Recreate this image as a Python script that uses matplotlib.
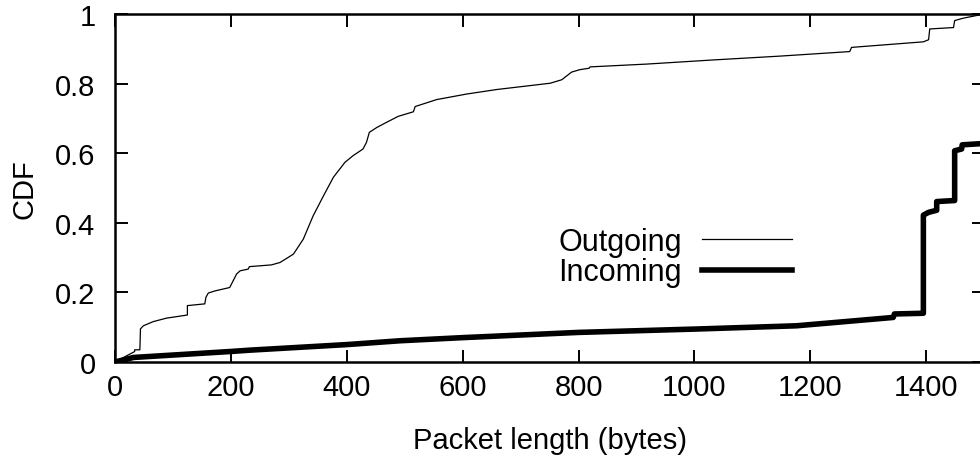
import matplotlib as mpl
mpl.use('Agg')
import matplotlib.pyplot as plt

# CDF of packet lengths
out_x = [0, 34, 34, 43, 44, 49, 66, 89, 125, 125, 155, 157, 161, 172, 198,
         210, 216, 230, 232, 270, 285, 308, 325, 342, 360, 377, 397, 411, 428,
         434, 439, 452, 469, 489, 515, 518, 555, 607, 659, 705, 751, 771, 788,
         802, 818, 820, 917, 1033, 1148, 1268, 1271, 1395, 1404, 1406, 1447,
         1449, 1464, 1500]
out_y = [0, 0.03, 0.035, 0.035, 0.095, 0.104, 0.116, 0.126, 0.135, 0.162,
         0.167, 0.186, 0.198, 0.204, 0.214, 0.253, 0.262, 0.267, 0.274, 0.279,
         0.286, 0.310, 0.353, 0.420, 0.478, 0.531, 0.574, 0.593, 0.612, 0.631,
         0.660, 0.674, 0.689, 0.706, 0.719, 0.734, 0.754, 0.770, 0.783, 0.792,
         0.801, 0.811, 0.833, 0.840, 0.844, 0.848, 0.856, 0.868, 0.879, 0.892,
         0.904, 0.920, 0.926, 0.957, 0.961, 0.981, 0.988, 1.0]

in_x = [0, 32, 198, 233, 400, 492, 600, 800, 1009, 1176, 1343, 1345, 1395,
        1395, 1404, 1418, 1418, 1449, 1449, 1461, 1462, 1500]
in_y = [0, 0.013, 0.030, 0.034, 0.05, 0.061, 0.07, 0.085, 0.095, 0.104, 0.128,
        0.138, 0.14, 0.422, 0.43, 0.436, 0.461, 0.464, 0.607, 0.612, 0.624,
        0.628]

xticks = [0, 200, 400, 600, 800, 1000, 1200, 1400]
yticks = [0, 0.2, 0.4, 0.6, 0.8, 1]
ytick_labels = ['0', '0.2', '0.4', '0.6', '0.8', '1']

plt.rcParams['font.family'] = ['Liberation Sans', 'DejaVu Sans']
plt.rcParams['font.size'] = 21

fig = plt.figure(figsize=(9.8, 4.64), dpi=100)
# the right edge of the frame falls just outside the picture
ax = fig.add_axes([0.1173, 0.2177, 0.887, 0.75])

ax.plot(out_x, out_y, color='black', lw=0.9, label='Outgoing')
ax.plot(in_x, in_y, color='black', lw=4, label='Incoming')

ax.set_xlim(0, 1500)
ax.set_ylim(0, 1)
ax.set_xticks(xticks)
ax.set_yticks(yticks)
ax.set_yticklabels(ytick_labels)
ax.tick_params(direction='in', length=9, width=1.4, top=True, right=True)
ax.tick_params(axis='x', pad=8)
ax.tick_params(axis='y', pad=14)
for s in ax.spines.values():
    s.set_linewidth(1.8)

ax.set_xlabel('Packet length (bytes)', labelpad=18)
ax.set_ylabel('CDF', labelpad=12)

ax.legend(loc='center right', bbox_to_anchor=(0.779, 0.302), frameon=False,
          markerfirst=False, handlelength=2.95, handletextpad=0.65,
          labelspacing=0.02, borderpad=0, borderaxespad=0, fontsize=22)

plt.savefig('out.png', dpi=100)
